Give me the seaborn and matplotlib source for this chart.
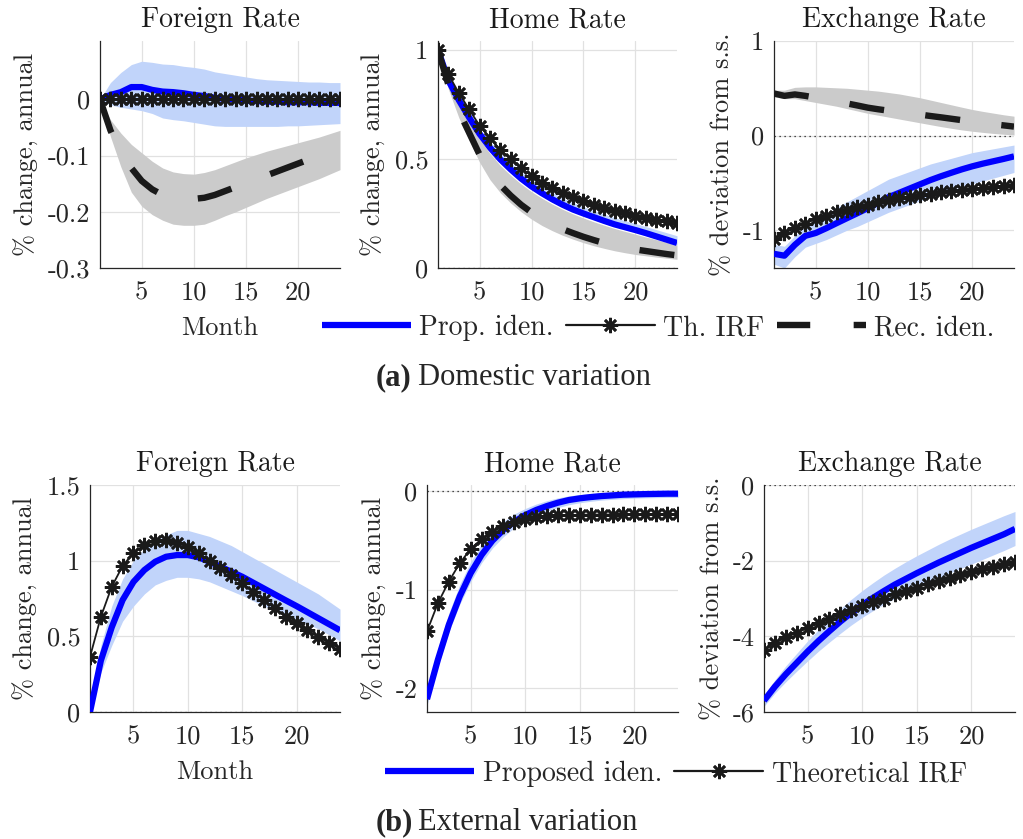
import numpy as np
import pandas as pd
import matplotlib
matplotlib.use("Agg")
import matplotlib.pyplot as plt
import seaborn as sns
from matplotlib.lines import Line2D

sns.set_theme(style="white")
plt.rcParams["font.family"] = ["cmr10", "DejaVu Serif"]
plt.rcParams["mathtext.fontset"] = "cm"
plt.rcParams["axes.unicode_minus"] = False

months = list(range(1, 25))

# ---------------- (a) Domestic variation ----------------
# Foreign rate
fd_prop = [0, 0.008, 0.013, 0.022, 0.022, 0.017, 0.014, 0.013, 0.011, 0.008, 0.006, 0.003,
           0.001, 0.0, -0.002, -0.003, -0.004, -0.004, -0.005, -0.005, -0.005, -0.006, -0.006, -0.006]
fd_prop_hi = [0, 0.03, 0.048, 0.062, 0.068, 0.066, 0.063, 0.062, 0.059, 0.057, 0.054, 0.049,
              0.046, 0.043, 0.040, 0.037, 0.035, 0.034, 0.033, 0.032, 0.031, 0.031, 0.030, 0.030]
fd_prop_lo = [0, -0.01, -0.014, -0.017, -0.02, -0.025, -0.033, -0.036, -0.038, -0.041, -0.044, -0.047,
              -0.048, -0.048, -0.048, -0.048, -0.048, -0.048, -0.047, -0.047, -0.046, -0.045, -0.044, -0.043]
fd_th = [0.0] * 24
fd_rec = [0, -0.055, -0.095, -0.122, -0.145, -0.16, -0.17, -0.175, -0.177, -0.177, -0.175, -0.17,
          -0.163, -0.156, -0.149, -0.142, -0.135, -0.128, -0.121, -0.114, -0.107, -0.101, -0.095, -0.089]
fd_rec_hi = [0, -0.036, -0.06, -0.08, -0.095, -0.11, -0.122, -0.129, -0.132, -0.133, -0.13, -0.125,
             -0.118, -0.111, -0.104, -0.098, -0.092, -0.087, -0.082, -0.077, -0.072, -0.067, -0.061, -0.055]
fd_rec_lo = [0, -0.066, -0.12, -0.165, -0.19, -0.205, -0.215, -0.222, -0.224, -0.224, -0.222, -0.215,
             -0.207, -0.2, -0.192, -0.184, -0.176, -0.169, -0.162, -0.155, -0.148, -0.141, -0.133, -0.125]

# Home rate
hd_prop = [1.0, 0.86, 0.77, 0.69, 0.615, 0.552, 0.498, 0.452, 0.41, 0.374, 0.343, 0.315,
           0.29, 0.268, 0.25, 0.233, 0.216, 0.2, 0.187, 0.174, 0.16, 0.145, 0.13, 0.115]
hd_prop_hi = [1.0, 0.875, 0.79, 0.715, 0.64, 0.58, 0.528, 0.483, 0.442, 0.406, 0.375, 0.347,
              0.322, 0.3, 0.281, 0.264, 0.247, 0.231, 0.217, 0.204, 0.19, 0.176, 0.162, 0.148]
hd_prop_lo = [1.0, 0.85, 0.755, 0.675, 0.6, 0.538, 0.485, 0.44, 0.398, 0.362, 0.331, 0.303,
              0.278, 0.257, 0.238, 0.221, 0.204, 0.189, 0.176, 0.163, 0.149, 0.135, 0.121, 0.106]
hd_th = [1.0, 0.888, 0.803, 0.727, 0.653, 0.596, 0.542, 0.5, 0.458, 0.424, 0.392, 0.366,
         0.343, 0.324, 0.305, 0.289, 0.274, 0.261, 0.25, 0.24, 0.23, 0.222, 0.214, 0.207]
hd_rec = [1.0, 0.84, 0.72, 0.62, 0.52, 0.44, 0.38, 0.332, 0.29, 0.255, 0.225, 0.2,
          0.178, 0.16, 0.143, 0.128, 0.114, 0.102, 0.093, 0.085, 0.078, 0.071, 0.064, 0.058]
hd_rec_hi = [1.0, 0.85, 0.75, 0.67, 0.59, 0.525, 0.47, 0.425, 0.385, 0.35, 0.32, 0.293,
             0.269, 0.248, 0.229, 0.212, 0.196, 0.181, 0.168, 0.155, 0.142, 0.13, 0.118, 0.105]
hd_rec_lo = [1.0, 0.82, 0.69, 0.585, 0.485, 0.405, 0.345, 0.298, 0.258, 0.224, 0.195, 0.171,
             0.15, 0.132, 0.116, 0.102, 0.09, 0.079, 0.07, 0.062, 0.056, 0.05, 0.045, 0.04]

# Exchange rate
xd_prop = [-1.25, -1.27, -1.155, -1.06, -1.03, -0.98, -0.926, -0.873, -0.82, -0.767, -0.71, -0.65,
           -0.605, -0.56, -0.515, -0.47, -0.43, -0.393, -0.357, -0.325, -0.297, -0.272, -0.247, -0.22]
xd_prop_hi = [-1.15, -1.17, -1.06, -0.96, -0.9, -0.83, -0.76, -0.7, -0.64, -0.58, -0.52, -0.46,
              -0.42, -0.38, -0.34, -0.3, -0.27, -0.24, -0.21, -0.18, -0.16, -0.14, -0.12, -0.1]
xd_prop_lo = [-1.36, -1.4, -1.28, -1.18, -1.14, -1.1, -1.05, -1.0, -0.96, -0.91, -0.86, -0.81,
              -0.77, -0.73, -0.69, -0.65, -0.61, -0.57, -0.54, -0.51, -0.48, -0.45, -0.42, -0.39]
xd_th = [-1.095, -1.03, -0.98, -0.93, -0.883, -0.848, -0.813, -0.784, -0.756, -0.731, -0.707, -0.686,
         -0.664, -0.647, -0.629, -0.615, -0.601, -0.587, -0.576, -0.565, -0.555, -0.544, -0.537, -0.527]
xd_rec = [0.445, 0.42, 0.435, 0.42, 0.40, 0.38, 0.36, 0.34, 0.318, 0.295, 0.278, 0.263,
          0.25, 0.235, 0.222, 0.207, 0.193, 0.178, 0.163, 0.148, 0.134, 0.12, 0.108, 0.095]
xd_rec_hi = [0.48, 0.48, 0.51, 0.515, 0.515, 0.51, 0.505, 0.5, 0.49, 0.48, 0.47, 0.455,
             0.44, 0.42, 0.4, 0.375, 0.35, 0.325, 0.3, 0.276, 0.256, 0.238, 0.22, 0.205]
xd_rec_lo = [0.41, 0.39, 0.39, 0.37, 0.35, 0.33, 0.31, 0.285, 0.26, 0.235, 0.215, 0.195,
             0.175, 0.155, 0.135, 0.115, 0.095, 0.077, 0.06, 0.046, 0.034, 0.023, 0.014, 0.006]

# ---------------- (b) External variation ----------------
fe_prop = [0.0, 0.34, 0.56, 0.74, 0.86, 0.938, 0.993, 1.026, 1.037, 1.037, 1.022, 0.993,
           0.96, 0.927, 0.894, 0.855, 0.816, 0.777, 0.738, 0.7, 0.66, 0.62, 0.58, 0.54]
fe_prop_hi = [0.0, 0.44, 0.7, 0.88, 1.0, 1.08, 1.13, 1.17, 1.2, 1.2, 1.18, 1.16,
              1.13, 1.1, 1.06, 1.02, 0.98, 0.94, 0.9, 0.86, 0.82, 0.78, 0.73, 0.68]
fe_prop_lo = [0.0, 0.26, 0.44, 0.6, 0.7, 0.78, 0.84, 0.87, 0.89, 0.89, 0.88, 0.86,
              0.83, 0.8, 0.77, 0.735, 0.7, 0.67, 0.64, 0.61, 0.58, 0.55, 0.51, 0.47]
fe_th = [0.364, 0.629, 0.828, 0.965, 1.053, 1.104, 1.13, 1.137, 1.119, 1.088, 1.049, 1.0,
         0.954, 0.905, 0.854, 0.795, 0.74, 0.684, 0.629, 0.585, 0.541, 0.497, 0.457, 0.419]

he_prop = [-2.11, -1.71, -1.357, -1.07, -0.835, -0.65, -0.505, -0.397, -0.313, -0.246, -0.195, -0.155,
           -0.121, -0.094, -0.077, -0.064, -0.054, -0.047, -0.04, -0.037, -0.034, -0.032, -0.03, -0.03]
he_prop_hi = [-2.05, -1.6, -1.24, -0.95, -0.72, -0.54, -0.41, -0.31, -0.235, -0.18, -0.135, -0.1,
              -0.072, -0.052, -0.038, -0.028, -0.02, -0.015, -0.01, -0.007, -0.005, -0.004, -0.003, -0.003]
he_prop_lo = [-2.17, -1.78, -1.43, -1.15, -0.92, -0.73, -0.58, -0.465, -0.375, -0.305, -0.25, -0.207,
              -0.17, -0.142, -0.122, -0.107, -0.095, -0.087, -0.08, -0.075, -0.072, -0.07, -0.068, -0.067]
he_th = [-1.424, -1.138, -0.919, -0.734, -0.589, -0.488, -0.414, -0.357, -0.313, -0.286, -0.269, -0.256,
         -0.249, -0.246, -0.243, -0.242, -0.241, -0.241, -0.24, -0.24, -0.24, -0.24, -0.24, -0.24]

xe_prop = [-5.7, -5.33, -5.0, -4.7, -4.4, -4.12, -3.86, -3.61, -3.38, -3.17, -2.98, -2.8,
           -2.63, -2.48, -2.33, -2.19, -2.05, -1.92, -1.79, -1.66, -1.54, -1.42, -1.3, -1.16]
xe_prop_hi = [-5.55, -5.15, -4.78, -4.45, -4.12, -3.82, -3.54, -3.27, -3.02, -2.79, -2.58, -2.38,
              -2.2, -2.03, -1.87, -1.72, -1.57, -1.43, -1.3, -1.17, -1.05, -0.93, -0.81, -0.7]
xe_prop_lo = [-5.85, -5.5, -5.2, -4.92, -4.65, -4.39, -4.15, -3.92, -3.7, -3.5, -3.32, -3.15,
              -3.0, -2.86, -2.72, -2.59, -2.46, -2.33, -2.21, -2.09, -1.97, -1.85, -1.73, -1.6]
xe_th = [-4.35, -4.17, -4.03, -3.91, -3.78, -3.66, -3.55, -3.42, -3.31, -3.2, -3.09, -3.0,
         -2.89, -2.8, -2.71, -2.62, -2.53, -2.45, -2.37, -2.3, -2.23, -2.16, -2.09, -2.03]

titles = ["Foreign Rate", "Home Rate", "Exchange Rate"]
ylab_rate = "% change, annual"
ylab_fx = "% deviation from s.s."
xtick_vals = [5, 10, 15, 20]

BLUE = "#0000ff"
BLUE_BAND = "#c1d4fa"
GRAY_BAND = "#cbcbcb"
AX_COL = "#262626"
STAR = (8, 2, 0)
DASH = (0, (5.5, 6.5))
MS, MEW = 11, 1.9

W, H = 1023, 839
fig = plt.figure(figsize=(W / 100, H / 100), dpi=100)


def add_ax(left, top, right, bottom):
    return fig.add_axes([left / W, 1 - bottom / H, (right - left) / W, (bottom - top) / H])


def style(ax, title, ylim, yticks, ylabels, ylabel, xlabel=None):
    ax.set_xlim(1, 24)
    ax.set_ylim(*ylim)
    ax.set_xticks(xtick_vals, [str(v) for v in xtick_vals])
    ax.set_yticks(yticks, ylabels)
    ax.grid(True, color="#e1e1e1", lw=0.9)
    ax.set_axisbelow(True)
    for s in ["top", "right"]:
        ax.spines[s].set_visible(False)
    for s in ["left", "bottom"]:
        ax.spines[s].set_color(AX_COL)
        ax.spines[s].set_linewidth(0.9)
    ax.tick_params(direction="in", length=4, width=0.8, colors=AX_COL, labelsize=19)
    ax.tick_params(axis="x", pad=9)
    ax.tick_params(axis="y", pad=7)
    ax.set_title(title, fontsize=20, pad=10, color="k")
    ax.set_ylabel(ylabel, fontsize=19, color=AX_COL, labelpad=6)
    if xlabel:
        ax.set_xlabel(xlabel, fontsize=19, color=AX_COL, labelpad=9)
    else:
        ax.set_xlabel("")
    ax.axhline(0, color="k", ls=(0, (1, 3)), lw=0.9, zorder=1.5)


def draw(ax, prop, lo, hi, th, rec=None, rlo=None, rhi=None):
    if rec is not None:
        ax.fill_between(months, rlo, rhi, color=GRAY_BAND, lw=0, zorder=2)
    ax.fill_between(months, lo, hi, color=BLUE_BAND, lw=0, zorder=2.1)
    sns.lineplot(x=months, y=prop, ax=ax, color=BLUE, lw=4.5, solid_capstyle="butt", zorder=3)
    if rec is not None:
        sns.lineplot(x=months, y=rec, ax=ax, color="k", lw=4.6, linestyle=DASH,
                     dash_capstyle="butt", zorder=3.5)
    sns.lineplot(x=months, y=th, ax=ax, color="k", lw=1.3, marker=STAR, markersize=MS,
                 markeredgewidth=MEW, markeredgecolor="k", markerfacecolor="k", zorder=4)


# top row
a1 = add_ax(100, 41, 340, 268)
draw(a1, fd_prop, fd_prop_lo, fd_prop_hi, fd_th, fd_rec, fd_rec_lo, fd_rec_hi)
style(a1, titles[0], (-0.3, 0.104), [-0.3, -0.2, -0.1, 0], ["-0.3", "-0.2", "-0.1", "0"], ylab_rate, "Month")

a2 = add_ax(438, 41, 677, 268)
draw(a2, hd_prop, hd_prop_lo, hd_prop_hi, hd_th, hd_rec, hd_rec_lo, hd_rec_hi)
style(a2, titles[1], (0, 1.041), [0, 0.5, 1], ["0", "0.5", "1"], ylab_rate)

a3 = add_ax(774, 41, 1014, 268)
draw(a3, xd_prop, xd_prop_lo, xd_prop_hi, xd_th, xd_rec, xd_rec_lo, xd_rec_hi)
style(a3, titles[2], (-1.4, 1.0), [-1, 0, 1], ["-1", "0", "1"], ylab_fx)

# bottom row
b1 = add_ax(90, 485, 340, 712)
draw(b1, fe_prop, fe_prop_lo, fe_prop_hi, fe_th)
style(b1, titles[0], (0, 1.5), [0, 0.5, 1, 1.5], ["0", "0.5", "1", "1.5"], ylab_rate, "Month")

b2 = add_ax(427, 485, 678, 712)
draw(b2, he_prop, he_prop_lo, he_prop_hi, he_th)
style(b2, titles[1], (-2.24, 0.058), [-2, -1, 0], ["-2", "-1", "0"], ylab_rate)

b3 = add_ax(764, 485, 1015, 712)
draw(b3, xe_prop, xe_prop_lo, xe_prop_hi, xe_th)
style(b3, titles[2], (-6, 0), [-6, -4, -2, 0], ["-6", "-4", "-2", "0"], ylab_fx)

# legends
h_prop = Line2D([], [], color=BLUE, lw=4.5, solid_capstyle="butt")
h_th = Line2D([], [], color="k", lw=1.6, marker=STAR, markersize=MS, markeredgewidth=MEW)
h_rec = Line2D([], [], color="k", lw=4.6, linestyle=(0, (5.2, 6.8)), dash_capstyle="butt")

leg_kw = dict(loc="center", frameon=False, ncol=3, handlelength=3.2, handletextpad=0.3,
              columnspacing=0.45, numpoints=1, prop={"family": "cmr10", "size": 20})
fig.legend([h_prop, h_th, h_rec], ["Prop. iden.", "Th. IRF", "Rec. iden."],
           bbox_to_anchor=(658 / W, 1 - 328 / H), **leg_kw)
fig.legend([h_prop, h_th], ["Proposed iden.", "Theoretical IRF"],
           bbox_to_anchor=(676 / W, 1 - 774 / H), **leg_kw)

# captions
cap_font = ["Liberation Serif", "DejaVu Serif"]
for y_base, tag, txt in [(385, "(a)", "Domestic variation"), (830, "(b)", "External variation")]:
    fig.text(376 / W, 1 - y_base / H, tag, family=cap_font, fontweight="bold", fontsize=22,
             ha="left", va="baseline")
    fig.text(418 / W, 1 - y_base / H, txt, family=cap_font, fontsize=22, ha="left", va="baseline")

fig.savefig("out.png", dpi=100)
